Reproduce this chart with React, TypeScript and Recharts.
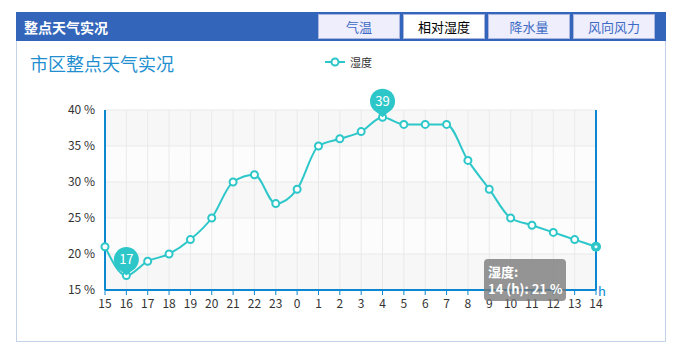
import React from 'react';
import {
  LineChart,
  Line,
  XAxis,
  YAxis,
  CartesianGrid,
  Tooltip,
  ReferenceDot,
} from 'recharts';

const hours = ['15', '16', '17', '18', '19', '20', '21', '22', '23', '0', '1', '2', '3', '4', '5', '6', '7', '8', '9', '10', '11', '12', '13', '14'];
const humidity = [21, 17, 19, 20, 22, 25, 30, 31, 27, 29, 35, 36, 37, 39, 38, 38, 38, 33, 29, 25, 24, 23, 22, 21];
const yTicks = [15, 20, 25, 30, 35, 40];
const tabs = ['气温', '相对湿度', '降水量', '风向风力'];
const activeTab = '相对湿度';

const TEAL = '#2ec7c9';
const AXIS = '#0b88d0';
const FONT = '"Noto Sans CJK SC", "Open Sans", sans-serif';

const data = hours.map((h, i) => ({ hour: h, value: humidity[i] }));
const maxIdx = humidity.indexOf(Math.max(...humidity));
const minIdx = humidity.indexOf(Math.min(...humidity));

const Pin = (props: any) => {
  const { cx, cy, label } = props;
  const cyc = cy - 16;
  return (
    <g>
      <polygon points={`${cx},${cy} ${cx - 8},${cyc + 9} ${cx + 8},${cyc + 9}`} fill={TEAL} />
      <circle cx={cx} cy={cyc} r={12.5} fill={TEAL} />
      <text x={cx} y={cyc + 4.5} textAnchor="middle" fill="#fff" fontSize={13} fontFamily={FONT}>
        {label}
      </text>
    </g>
  );
};

const ActiveDot = (props: any) => {
  const { cx, cy } = props;
  return (
    <g>
      <circle cx={cx} cy={cy} r={5} fill={TEAL} />
      <circle cx={cx} cy={cy} r={1.5} fill="#fff" />
    </g>
  );
};

const TipBox = ({ payload }: any) => {
  if (!payload || !payload.length) return null;
  const p = payload[0];
  return (
    <div
      style={{
        background: 'rgba(120,120,120,0.78)',
        borderRadius: 4,
        color: '#fff',
        fontSize: 13,
        fontWeight: 600,
        fontFamily: FONT,
        lineHeight: '17px',
        padding: '4px 4px',
        whiteSpace: 'nowrap',
      }}
    >
      <div>湿度:</div>
      <div>{p.payload.hour} (h): {p.value} %</div>
    </div>
  );
};

export default function App() {
  return (
    <div style={{ position: 'absolute', left: 0, top: 0, width: 678, height: 349, background: '#fff', fontFamily: FONT }}>
      {/* header bar */}
      <div style={{ position: 'absolute', left: 16, top: 12, width: 650, height: 29, background: '#3366bb' }}>
        <div style={{ position: 'absolute', left: 8, top: 5, color: '#fff', fontWeight: 'bold', fontSize: 14 }}>整点天气实况</div>
        {tabs.map((t, i) => (
          <div
            key={t}
            style={{
              position: 'absolute',
              left: 302 + i * 85,
              top: 2,
              width: 82,
              height: 25,
              boxSizing: 'border-box',
              border: '1px solid #aab6e0',
              background: t === activeTab ? '#fff' : '#eeeefc',
              color: t === activeTab ? '#000' : '#3c6ac6',
              fontSize: 13,
              lineHeight: '23px',
              textAlign: 'center',
            }}
          >
            {t}
          </div>
        ))}
      </div>
      {/* panel */}
      <div
        style={{
          position: 'absolute',
          left: 16,
          top: 41,
          width: 650,
          height: 301,
          boxSizing: 'border-box',
          borderLeft: '1px solid #c4d2ea',
          borderRight: '1px solid #c4d2ea',
          borderBottom: '1px solid #c4d2ea',
        }}
      />
      <div style={{ position: 'absolute', left: 30, top: 50, color: '#1f8fd0', fontSize: 18 }}>市区整点天气实况</div>
      <div style={{ position: 'absolute', left: 325, top: 54, display: 'flex', alignItems: 'center', fontSize: 11, color: '#333' }}>
        <svg width={20} height={14}>
          <line x1={0} y1={7} x2={20} y2={7} stroke={TEAL} strokeWidth={2} />
          <circle cx={10} cy={7} r={3.5} fill="#fff" stroke={TEAL} strokeWidth={2} />
        </svg>
        <span style={{ marginLeft: 5 }}>湿度</span>
      </div>
      <div style={{ position: 'absolute', left: 0, top: 0 }}>
        <LineChart width={678} height={349} data={data} margin={{ top: 110, right: 62, bottom: 29, left: 45 }}>
          <CartesianGrid
            stroke="#e9e9e9"
            horizontalFill={['#f7f7f7', '#fcfcfc']}
            fillOpacity={1}
          />
          <XAxis
            dataKey="hour"
            scale="point"
            padding={{ left: 0, right: 0 }}
            interval={0}
            height={30}
            axisLine={{ stroke: AXIS, strokeWidth: 2 }}
            tickLine={{ stroke: AXIS }}
            tickSize={5}
            tickMargin={4}
            tick={{ fill: '#333', fontSize: 12, fontFamily: FONT }}
            label={{ value: 'h', position: 'right', fill: AXIS, fontSize: 13, fontFamily: FONT, dx: -3, dy: -14 }}
          />
          <YAxis
            domain={[15, 40]}
            ticks={yTicks}
            width={60}
            axisLine={{ stroke: AXIS, strokeWidth: 2 }}
            tickLine={false}
            tickMargin={4}
            tickFormatter={(v: number) => `${v} %`}
            tick={{ fill: '#333', fontSize: 12, fontFamily: FONT }}
          />
          <YAxis
            yAxisId="r"
            orientation="right"
            domain={[15, 40]}
            width={20}
            tick={false}
            tickLine={false}
            axisLine={{ stroke: AXIS, strokeWidth: 2 }}
          />
          <Tooltip
            defaultIndex={23}
            position={{ x: 484, y: 259 }}
            cursor={false}
            isAnimationActive={false}
            content={<TipBox />}
            wrapperStyle={{ outline: 'none' }}
          />
          <Line
            type="monotone"
            dataKey="value"
            stroke={TEAL}
            strokeWidth={2}
            dot={{ r: 3.5, fill: '#fff', stroke: TEAL, strokeWidth: 2 }}
            activeDot={<ActiveDot />}
            isAnimationActive={false}
          />
          <ReferenceDot
            x={hours[maxIdx]}
            y={humidity[maxIdx]}
            shape={(p: any) => <Pin {...p} label={humidity[maxIdx]} />}
          />
          <ReferenceDot
            x={hours[minIdx]}
            y={humidity[minIdx]}
            shape={(p: any) => <Pin {...p} label={humidity[minIdx]} />}
          />
        </LineChart>
      </div>
    </div>
  );
}
